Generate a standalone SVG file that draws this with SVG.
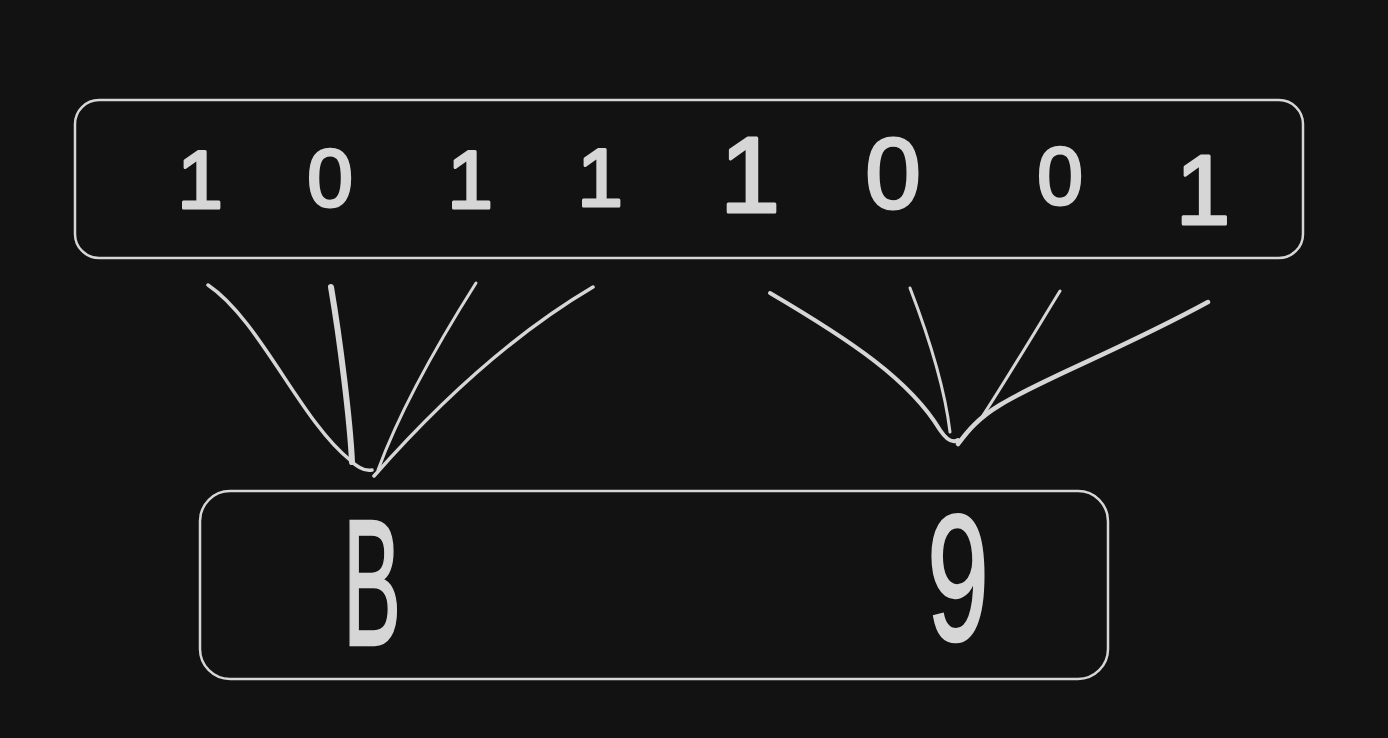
<svg xmlns="http://www.w3.org/2000/svg" width="1388" height="738" viewBox="0 0 1388 738">
<style>
.box{fill:none;stroke:#d6d6d6;stroke-width:2.5}
.ln{fill:none;stroke:#d6d6d6;stroke-linecap:round;stroke-linejoin:round}
.d{fill:#d6d6d6;stroke:#d6d6d6;stroke-width:3;stroke-linejoin:round;font-family:"Liberation Sans","DejaVu Sans",sans-serif;font-size:82px;text-anchor:middle}
.big{fill:#d6d6d6;stroke:#d6d6d6;stroke-width:2.5;font-family:"Liberation Sans","DejaVu Sans",sans-serif;font-size:180px;text-anchor:middle}
</style>
<rect width="1388" height="738" fill="#121212"/>
<g id="bits">
<rect class="box" x="75" y="100" width="1228" height="158" rx="24"/>
<text class="d" x="200" y="208">1</text>
<text class="d" x="330" y="206">0</text>
<text class="d" x="470" y="208">1</text>
<text class="d" x="600" y="206">1</text>
<text class="d" x="750" y="212" style="font-size:108px">1</text>
<text class="d" x="893" y="208" style="font-size:100px">0</text>
<text class="d" x="1060" y="204">0</text>
<text class="d" x="1203" y="224" style="font-size:98px">1</text>
</g>
<g id="hex">
<rect class="box" x="200" y="491" width="908" height="188" rx="30"/>
<text class="big" x="372" y="645" textLength="58" lengthAdjust="spacingAndGlyphs">B</text>
<text class="big" x="958" y="640" textLength="62" lengthAdjust="spacingAndGlyphs">9</text>
</g>
<g id="connectors">
<path class="ln" stroke-width="3.5" d="M208,285 C260,320 300,420 350,460 Q362,472 372,470"/>
<path class="ln" stroke-width="6" d="M331,287 C340,340 350,420 352,462"/>
<path class="ln" stroke-width="3" d="M476,283 C440,340 400,410 378,470"/>
<path class="ln" stroke-width="3.5" d="M593,287 C520,330 450,390 374,476"/>
<path class="ln" stroke-width="4" d="M770,293 C850,340 910,380 940,430 Q950,445 958,440"/>
<path class="ln" stroke-width="3" d="M910,288 C930,340 945,390 950,432"/>
<path class="ln" stroke-width="3" d="M1060,291 C1030,340 1000,390 980,420"/>
<path class="ln" stroke-width="4.5" d="M1208,302 C1120,350 1040,380 1000,405 C975,420 965,435 958,444"/>
</g>
</svg>
